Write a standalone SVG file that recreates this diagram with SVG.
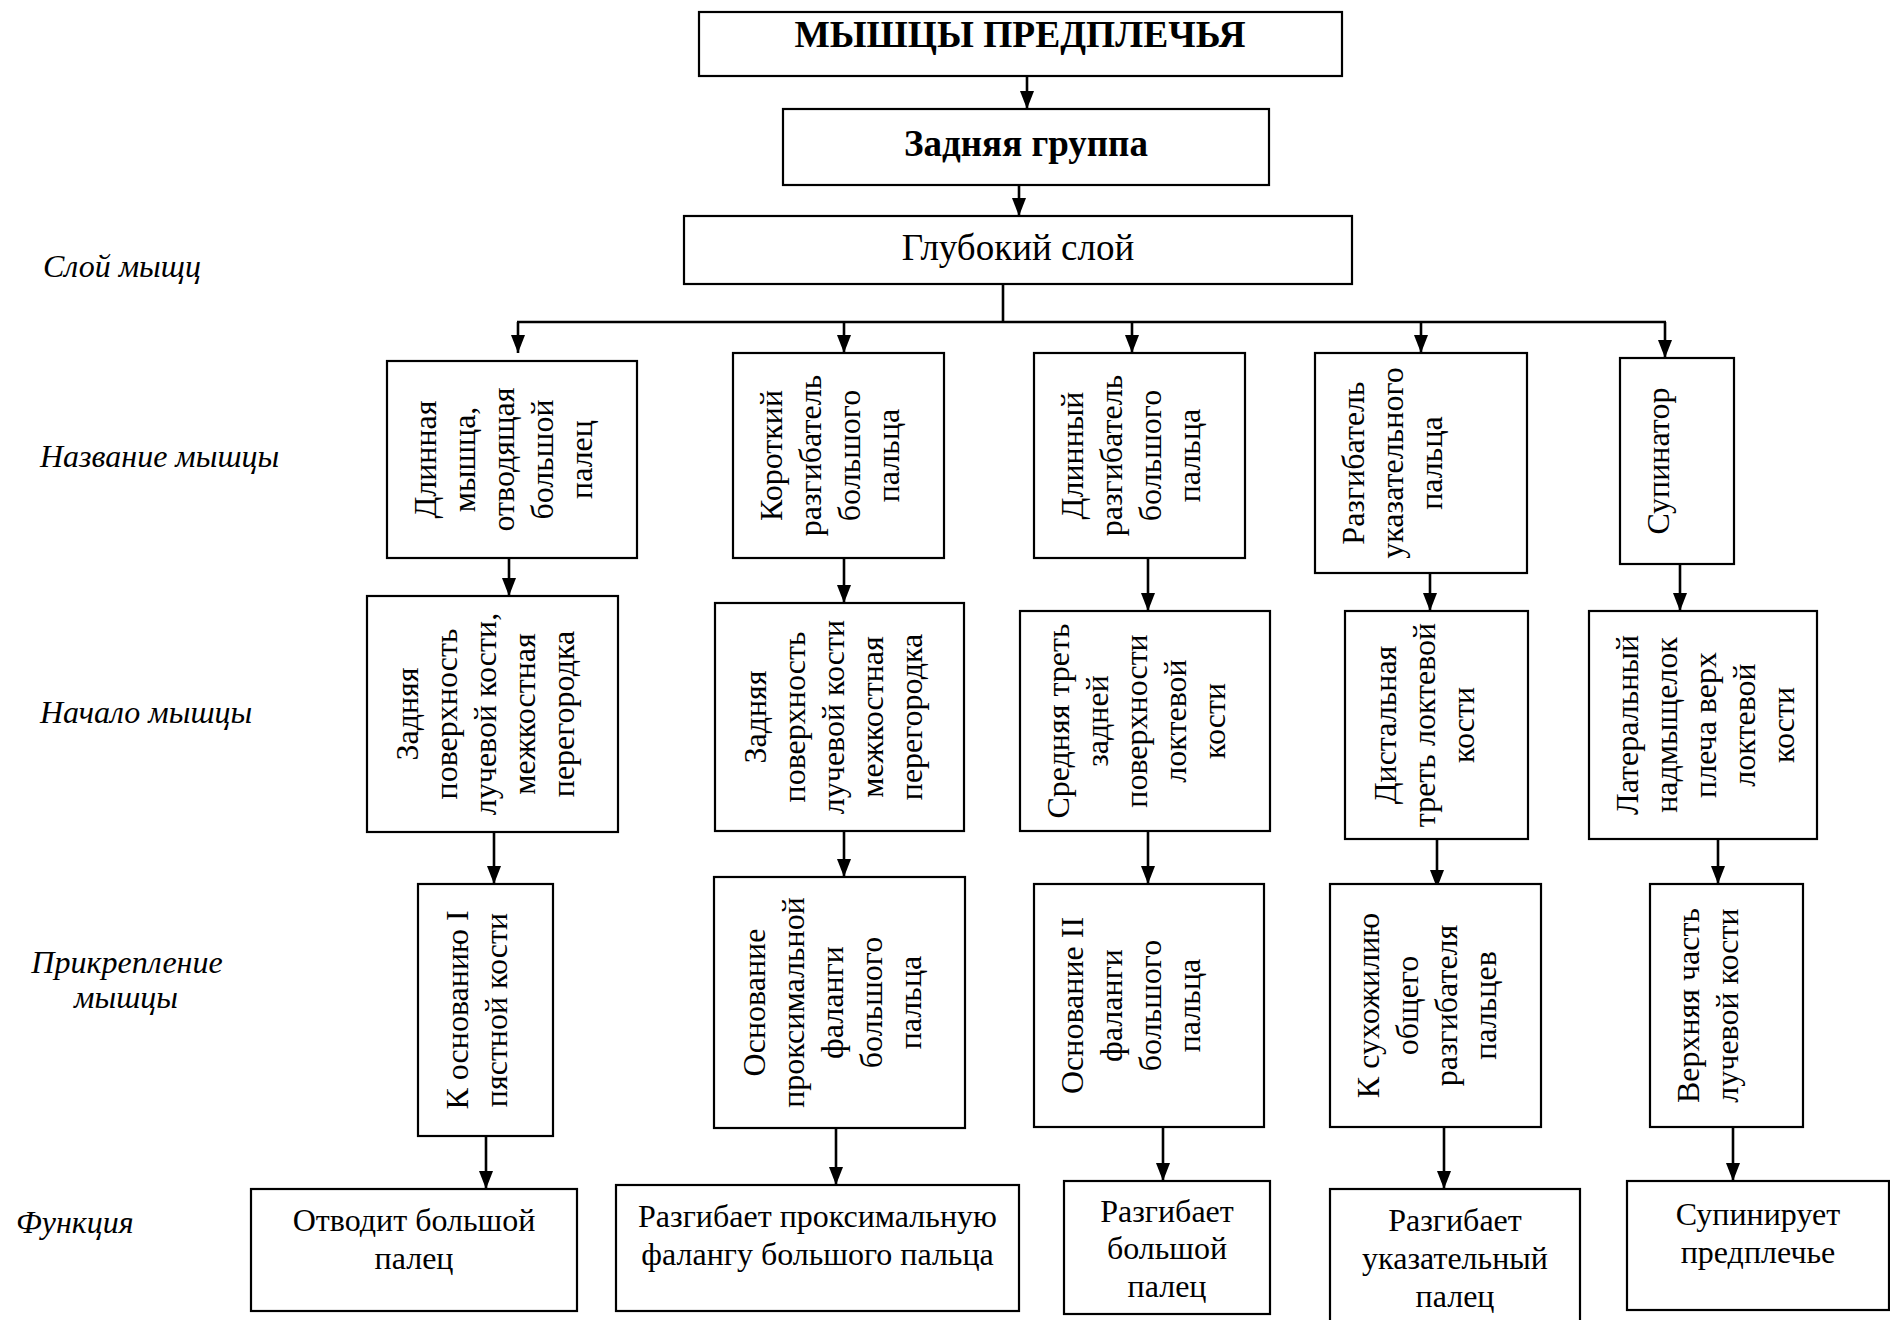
<svg xmlns="http://www.w3.org/2000/svg" width="1890" height="1320" viewBox="0 0 1890 1320">
  <style>
    text { font-family: "Liberation Serif", "Times New Roman", serif; fill: #000; }
    .box { fill: #fff; stroke: #000; stroke-width: 2.2; }
    .hd { font-size: 37px; text-anchor: middle; }
    .ttl { font-size: 37.5px; }
    .b { font-weight: bold; }
    .t { font-size: 32px; text-anchor: middle; }
    .lbl { font-size: 32px; font-style: italic; }
    .lc { text-anchor: middle; }
    .wire { fill: none; stroke: #000; stroke-width: 2.6; }
    .arr { marker-end: url(#head); }
  </style>
  <defs>
    <marker id="head" viewBox="0 0 18 14" refX="18" refY="7" markerWidth="18" markerHeight="14" markerUnits="userSpaceOnUse" orient="auto">
      <path d="M0,0 L18,7 L0,14 z" fill="#000"/>
    </marker>
  </defs>
  <rect width="1890" height="1320" fill="#fff"/>

  <!-- row captions on the left -->
  <g id="captions">
    <text class="lbl" x="43" y="277">Слой мыщц</text>
    <text class="lbl" x="40" y="467">Название мышцы</text>
    <text class="lbl" x="40" y="723">Начало мышцы</text>
    <text class="lbl lc" x="127" y="973">Прикрепление</text>
    <text class="lbl lc" x="126" y="1008">мышцы</text>
    <text class="lbl" x="16" y="1233">Функция</text>
  </g>

  <!-- connectors -->
  <g id="connectors">
    <line class="wire arr" x1="1027" y1="76" x2="1027" y2="109"/>
    <line class="wire arr" x1="1019" y1="185" x2="1019" y2="216"/>
    <line class="wire" x1="1003" y1="284" x2="1003" y2="322"/>
    <line class="wire" x1="517" y1="322" x2="1666" y2="322"/>
    <line class="wire arr" x1="518" y1="322" x2="518" y2="353"/>
    <line class="wire arr" x1="844" y1="322" x2="844" y2="353"/>
    <line class="wire arr" x1="1132" y1="322" x2="1132" y2="353"/>
    <line class="wire arr" x1="1421" y1="322" x2="1421" y2="353"/>
    <line class="wire arr" x1="1665" y1="322" x2="1665" y2="358"/>

    <line class="wire arr" x1="509" y1="558" x2="509" y2="596"/>
    <line class="wire arr" x1="844" y1="558" x2="844" y2="603"/>
    <line class="wire arr" x1="1148" y1="558" x2="1148" y2="611"/>
    <line class="wire arr" x1="1430" y1="573" x2="1430" y2="611"/>
    <line class="wire arr" x1="1680" y1="564" x2="1680" y2="611"/>

    <line class="wire arr" x1="494" y1="832" x2="494" y2="884"/>
    <line class="wire arr" x1="844" y1="831" x2="844" y2="877"/>
    <line class="wire arr" x1="1148" y1="831" x2="1148" y2="884"/>
    <line class="wire arr" x1="1437" y1="839" x2="1437" y2="888"/>
    <line class="wire arr" x1="1718" y1="839" x2="1718" y2="884"/>

    <line class="wire arr" x1="486" y1="1136" x2="486" y2="1189"/>
    <line class="wire arr" x1="836" y1="1128" x2="836" y2="1185"/>
    <line class="wire arr" x1="1163" y1="1127" x2="1163" y2="1181"/>
    <line class="wire arr" x1="1444" y1="1127" x2="1444" y2="1189"/>
    <line class="wire arr" x1="1733" y1="1127" x2="1733" y2="1181"/>
  </g>

  <!-- header chain -->
  <g id="n-title">
    <rect class="box" x="699" y="12" width="643" height="64"/>
    <text class="hd ttl b" x="1020" y="47">МЫШЦЫ ПРЕДПЛЕЧЬЯ</text>
  </g>
  <g id="n-group">
    <rect class="box" x="783" y="109" width="486" height="76"/>
    <text class="hd b" x="1026" y="156">Задняя группа</text>
  </g>
  <g id="n-layer">
    <rect class="box" x="684" y="216" width="668" height="68"/>
    <text class="hd" x="1018" y="260">Глубокий слой</text>
  </g>

  <!-- muscle names (vertical text) -->
  <g id="n-name1">
    <rect class="box" x="387" y="361" width="250" height="197"/>
    <g transform="translate(387 459.5) rotate(-90)">
      <text class="t" x="0" y="49">Длинная</text>
      <text class="t" x="0" y="88">мышца,</text>
      <text class="t" x="0" y="127">отводящая</text>
      <text class="t" x="0" y="166">большой</text>
      <text class="t" x="0" y="205">палец</text>
    </g>
  </g>
  <g id="n-name2">
    <rect class="box" x="733" y="353" width="211" height="205"/>
    <g transform="translate(733 455.5) rotate(-90)">
      <text class="t" x="0" y="49">Короткий</text>
      <text class="t" x="0" y="88">разгибатель</text>
      <text class="t" x="0" y="127">большого</text>
      <text class="t" x="0" y="166">пальца</text>
    </g>
  </g>
  <g id="n-name3">
    <rect class="box" x="1034" y="353" width="211" height="205"/>
    <g transform="translate(1034 455.5) rotate(-90)">
      <text class="t" x="0" y="49">Длинный</text>
      <text class="t" x="0" y="88">разгибатель</text>
      <text class="t" x="0" y="127">большого</text>
      <text class="t" x="0" y="166">пальца</text>
    </g>
  </g>
  <g id="n-name4">
    <rect class="box" x="1315" y="353" width="212" height="220"/>
    <g transform="translate(1315 463) rotate(-90)">
      <text class="t" x="0" y="49">Разгибатель</text>
      <text class="t" x="0" y="88">указательного</text>
      <text class="t" x="0" y="127">пальца</text>
    </g>
  </g>
  <g id="n-name5">
    <rect class="box" x="1620" y="358" width="114" height="206"/>
    <g transform="translate(1620 461) rotate(-90)">
      <text class="t" x="0" y="49">Супинатор</text>
    </g>
  </g>

  <!-- origins -->
  <g id="n-origin1">
    <rect class="box" x="367" y="596" width="251" height="236"/>
    <g transform="translate(367 714) rotate(-90)">
      <text class="t" x="0" y="51">Задняя</text>
      <text class="t" x="0" y="90">поверхность</text>
      <text class="t" x="0" y="129">лучевой кости,</text>
      <text class="t" x="0" y="168">межкостная</text>
      <text class="t" x="0" y="207">перегородка</text>
    </g>
  </g>
  <g id="n-origin2">
    <rect class="box" x="715" y="603" width="249" height="228"/>
    <g transform="translate(715 717) rotate(-90)">
      <text class="t" x="0" y="51">Задняя</text>
      <text class="t" x="0" y="90">поверхность</text>
      <text class="t" x="0" y="129">лучевой кости</text>
      <text class="t" x="0" y="168">межкостная</text>
      <text class="t" x="0" y="207">перегородка</text>
    </g>
  </g>
  <g id="n-origin3">
    <rect class="box" x="1020" y="611" width="250" height="220"/>
    <g transform="translate(1020 721) rotate(-90)">
      <text class="t" x="0" y="49">Средняя треть</text>
      <text class="t" x="0" y="88">задней</text>
      <text class="t" x="0" y="127">поверхности</text>
      <text class="t" x="0" y="166">локтевой</text>
      <text class="t" x="0" y="205">кости</text>
    </g>
  </g>
  <g id="n-origin4">
    <rect class="box" x="1345" y="611" width="183" height="228"/>
    <g transform="translate(1345 725) rotate(-90)">
      <text class="t" x="0" y="51">Дистальная</text>
      <text class="t" x="0" y="90">треть локтевой</text>
      <text class="t" x="0" y="129">кости</text>
    </g>
  </g>
  <g id="n-origin5">
    <rect class="box" x="1589" y="611" width="228" height="228"/>
    <g transform="translate(1589 725) rotate(-90)">
      <text class="t" x="0" y="49">Латеральный</text>
      <text class="t" x="0" y="88">надмыщелок</text>
      <text class="t" x="0" y="127">плеча верх</text>
      <text class="t" x="0" y="166">локтевой</text>
      <text class="t" x="0" y="205">кости</text>
    </g>
  </g>

  <!-- insertions -->
  <g id="n-insert1">
    <rect class="box" x="418" y="884" width="135" height="252"/>
    <g transform="translate(418 1010) rotate(-90)">
      <text class="t" x="0" y="50">К основанию I</text>
      <text class="t" x="0" y="89">пястной кости</text>
    </g>
  </g>
  <g id="n-insert2">
    <rect class="box" x="714" y="877" width="251" height="251"/>
    <g transform="translate(714 1002.5) rotate(-90)">
      <text class="t" x="0" y="51">Основание</text>
      <text class="t" x="0" y="90">проксимальной</text>
      <text class="t" x="0" y="129">фаланги</text>
      <text class="t" x="0" y="168">большого</text>
      <text class="t" x="0" y="207">пальца</text>
    </g>
  </g>
  <g id="n-insert3">
    <rect class="box" x="1034" y="884" width="230" height="243"/>
    <g transform="translate(1034 1005.5) rotate(-90)">
      <text class="t" x="0" y="49">Основание II</text>
      <text class="t" x="0" y="88">фаланги</text>
      <text class="t" x="0" y="127">большого</text>
      <text class="t" x="0" y="166">пальца</text>
    </g>
  </g>
  <g id="n-insert4">
    <rect class="box" x="1330" y="884" width="211" height="243"/>
    <g transform="translate(1330 1005.5) rotate(-90)">
      <text class="t" x="0" y="49">К сухожилию</text>
      <text class="t" x="0" y="88">общего</text>
      <text class="t" x="0" y="127">разгибателя</text>
      <text class="t" x="0" y="166">пальцев</text>
    </g>
  </g>
  <g id="n-insert5">
    <rect class="box" x="1650" y="884" width="153" height="243"/>
    <g transform="translate(1650 1005.5) rotate(-90)">
      <text class="t" x="0" y="49">Верхняя часть</text>
      <text class="t" x="0" y="88">лучевой кости</text>
    </g>
  </g>

  <!-- functions -->
  <g id="n-func1">
    <rect class="box" x="251" y="1189" width="326" height="122"/>
    <text class="t" x="414" y="1231">Отводит большой</text>
    <text class="t" x="414" y="1269">палец</text>
  </g>
  <g id="n-func2">
    <rect class="box" x="616" y="1185" width="403" height="126"/>
    <text class="t" x="817.5" y="1227">Разгибает проксимальную</text>
    <text class="t" x="817.5" y="1265">фалангу большого пальца</text>
  </g>
  <g id="n-func3">
    <rect class="box" x="1064" y="1181" width="206" height="133"/>
    <text class="t" x="1167" y="1222">Разгибает</text>
    <text class="t" x="1167" y="1259">большой</text>
    <text class="t" x="1167" y="1297">палец</text>
  </g>
  <g id="n-func4">
    <rect class="box" x="1330" y="1189" width="250" height="150"/>
    <text class="t" x="1455" y="1231">Разгибает</text>
    <text class="t" x="1455" y="1269">указательный</text>
    <text class="t" x="1455" y="1307">палец</text>
  </g>
  <g id="n-func5">
    <rect class="box" x="1627" y="1181" width="262" height="129"/>
    <text class="t" x="1758" y="1225">Супинирует</text>
    <text class="t" x="1758" y="1263">предплечье</text>
  </g>
</svg>
